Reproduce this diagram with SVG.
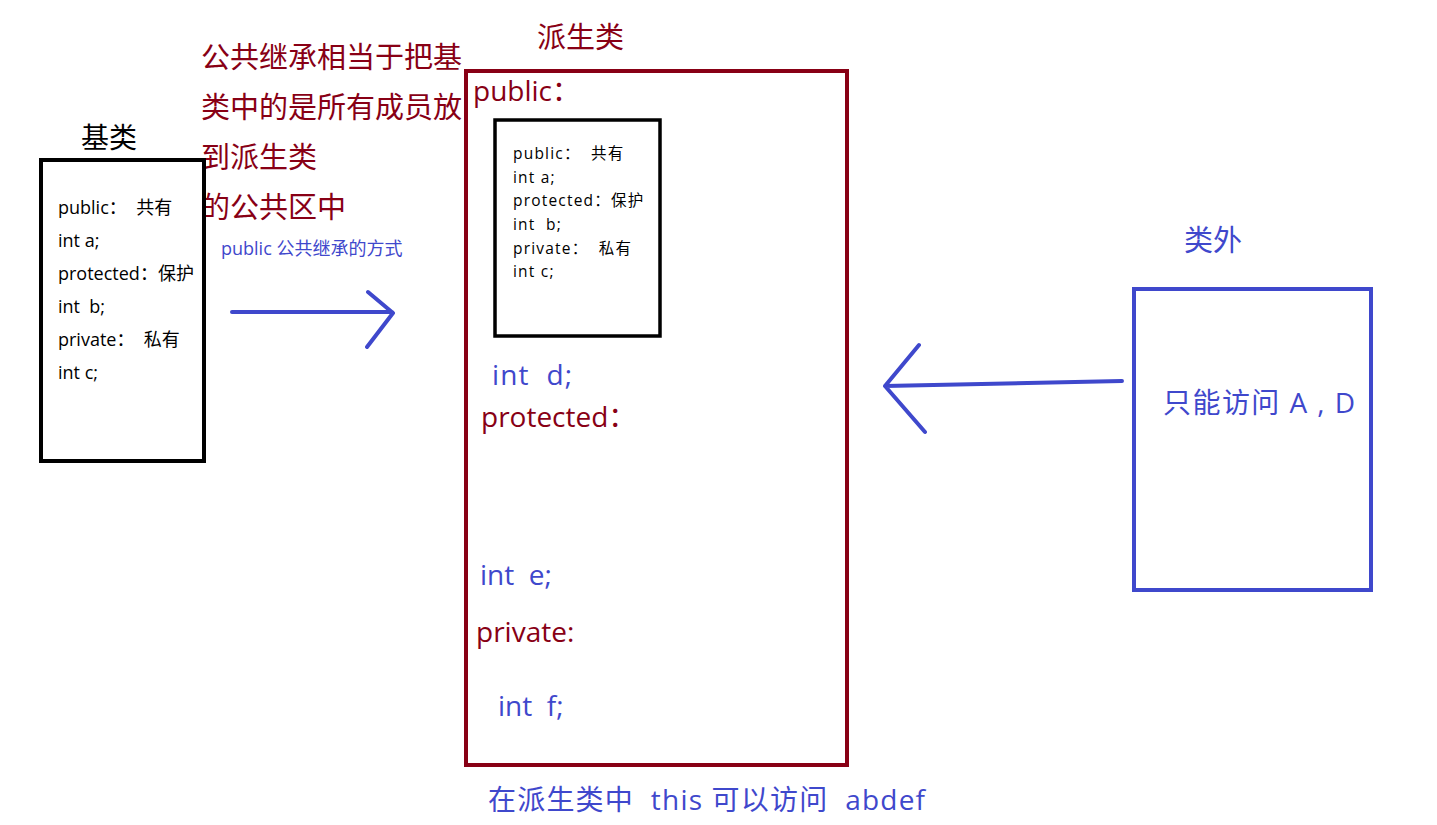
<svg xmlns="http://www.w3.org/2000/svg" width="1437" height="825" viewBox="0 0 1437 825">
<style>
text{font-family:"Open Sans","Noto Sans CJK SC",sans-serif;white-space:pre}
.red{fill:#880015}
.blue{fill:#3F48CC}
.blk{fill:#000}
.big{font-size:28px}
.hz{font-size:29px}
.mid{font-size:18px}
.sm{font-size:15.5px;letter-spacing:1.2px}
.box{fill:none;stroke-width:4}
.arrow{fill:none;stroke:#3F48CC;stroke-width:4;stroke-linecap:round;stroke-linejoin:round}
</style>
<defs>
<clipPath id="cb"><rect x="41" y="160" width="163" height="301"/></clipPath>
<clipPath id="ci"><rect x="495" y="120" width="165" height="216"/></clipPath>
</defs>
<rect width="1437" height="825" fill="#fff"/>

<g id="note">
<text class="red hz" x="201" y="68">公共继承相当于把基</text>
<text class="red hz" x="201" y="118">类中的是所有成员放</text>
<text class="red hz" x="201" y="168">到派生类</text>
<text class="red hz" x="201" y="218">的公共区中</text>
<text class="blue mid" x="221" y="255">public 公共继承的方式</text>
</g>

<g id="base">
<text class="blk big" x="81" y="148">基类</text>
<rect class="box" x="41" y="160" width="163" height="301" stroke="#000"/>
<g clip-path="url(#cb)">
<text class="blk mid" x="58" y="214">public：  共有</text>
<text class="blk mid" x="58" y="247">int a;</text>
<text class="blk mid" x="58" y="280">protected：保护</text>
<text class="blk mid" x="58" y="313">int  b;</text>
<text class="blk mid" x="58" y="346">private：  私有</text>
<text class="blk mid" x="58" y="379">int c;</text>
</g>
</g>

<g id="derived">
<text class="red hz" x="537" y="48">派生类</text>
<rect class="box" x="466" y="71" width="381" height="694" stroke="#880015"/>
<text class="red big" x="473" y="101">public：</text>
<rect x="495" y="120" width="165" height="216" fill="none" stroke="#000" stroke-width="3.5"/>
<g clip-path="url(#ci)">
<text class="blk sm" x="513" y="159">public：  共有</text>
<text class="blk sm" x="513" y="183">int a;</text>
<text class="blk sm" x="513" y="206">protected：保护</text>
<text class="blk sm" x="513" y="230">int  b;</text>
<text class="blk sm" x="513" y="254">private：  私有</text>
<text class="blk sm" x="513" y="277">int c;</text>
</g>
<text class="blue big" x="492" y="385" textLength="80" lengthAdjust="spacing">int  d;</text>
<text class="red big" x="481" y="427">protected：</text>
<text class="blue big" x="480" y="585">int  e;</text>
<text class="red big" x="476" y="642">private:</text>
<text class="blue big" x="498" y="716">int  f;</text>
<text class="blue big" x="488" y="810" textLength="437" lengthAdjust="spacing">在派生类中  this 可以访问  abdef</text>
</g>

<g id="outside">
<text class="blue hz" x="1184" y="251">类外</text>
<rect class="box" x="1134" y="289" width="237" height="301" stroke="#3F48CC"/>
<text class="blue big" x="1163" y="413" textLength="192" lengthAdjust="spacing">只能访问 A , D</text>
</g>

<g id="connectors">
<path class="arrow" d="M232 312 L392 312 M368 292 L393 313 L367 347"/>
<path class="arrow" d="M1122 381 L885 386 M919 345 L885 386 L925 432"/>
</g>
</svg>
